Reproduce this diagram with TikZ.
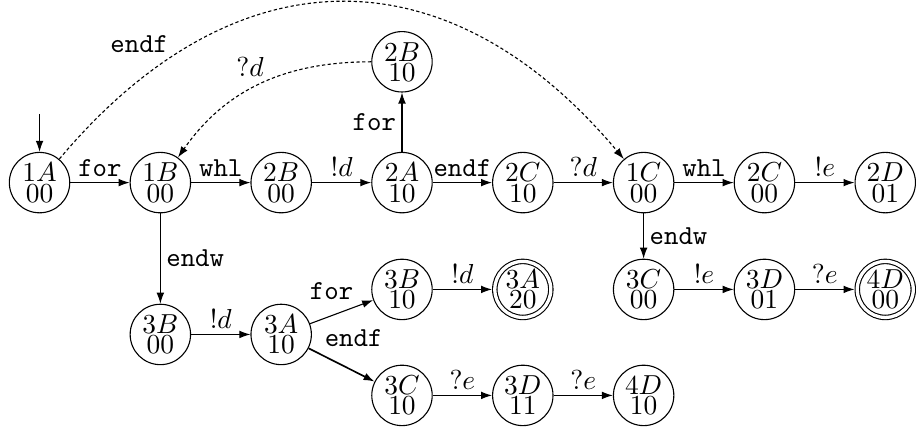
\documentclass[tikz,border=0pt]{standalone}
\usepackage{tikz}
\usetikzlibrary{arrows.meta,positioning}

\begin{document}
\begin{tikzpicture}[
    node distance=21.6pt,
    state/.style={draw, circle, minimum size=22pt, inner sep=0pt, align=center, font=\fontsize{10}{7.4}\selectfont},
    acc/.style={state, minimum size=20.4pt, double, double distance=1.2pt, outer sep=1pt},
    arrow/.style={-{Latex[length=4pt, width=2.8pt]}},
    back/.style={arrow, dash pattern=on 1.2pt off 0.9pt},
    lab/.style={font=\ttfamily, inner sep=2pt},
    mlab/.style={inner sep=2pt}
]
\useasboundingbox (-14.4pt,-89.7pt) rectangle (319.2pt,66.5pt);
% main row
\node[state] (s1A) {$1A$\\$00$};
\node[state, right=of s1A] (s1B) {$1B$\\$00$};
\node[state, right=of s1B] (s2B) {$2B$\\$00$};
\node[state, right=of s2B] (s2A) {$2A$\\$10$};
\node[state, above=of s2A] (s2Bt) {$2B$\\$10$};
\node[state, right=of s2A] (s2C) {$2C$\\$10$};
\node[state, right=of s2C] (s1C) {$1C$\\$00$};
\node[state, right=of s1C] (s2Cz) {$2C$\\$00$};
\node[state, right=of s2Cz] (s2D) {$2D$\\$01$};
% below 1C
\node[state, below=16.5pt of s1C] (s3Cz) {$3C$\\$00$};
\node[state, right=of s3Cz] (s3Dz) {$3D$\\$01$};
\node[acc, right=of s3Dz] (s4Dz) {$4D$\\$00$};
% below 1B
\node[state, below=32.9pt of s1B] (s3Bz) {$3B$\\$00$};
\node[state, right=of s3Bz] (s3Az) {$3A$\\$10$};
\node[state, right=of s3Az, yshift=16.4pt] (s3Bo) {$3B$\\$10$};
\node[acc, right=of s3Bo] (s3Ao) {$3A$\\$20$};
\node[state, right=of s3Az, yshift=-22.2pt] (s3Co) {$3C$\\$10$};
\node[state, right=of s3Co] (s3Do) {$3D$\\$11$};
\node[state, right=of s3Do] (s4Do) {$4D$\\$10$};
\coordinate[above=13.8pt of s1A] (init);

\draw[arrow] (init) -- (s1A);
\draw[arrow] (s1A) -- node[lab, above] {for} (s1B);
\draw[arrow] (s1B) -- node[lab, above] {whl} (s2B);
\draw[arrow] (s2B) -- node[mlab, above] {$!d$} (s2A);
\draw[arrow] (s2A) -- node[lab, left] {for} (s2Bt);
\draw[arrow] (s2A) -- node[lab, above] {endf} (s2C);
\draw[arrow] (s2C) -- node[mlab, above] {$?d$} (s1C);
\draw[arrow] (s1C) -- node[lab, above] {whl} (s2Cz);
\draw[arrow] (s2Cz) -- node[mlab, above] {$!e$} (s2D);
\draw[arrow] (s1C) -- node[lab, right] {endw} (s3Cz);
\draw[arrow] (s3Cz) -- node[mlab, above] {$!e$} (s3Dz);
\draw[arrow] (s3Dz) -- node[mlab, above] {$?e$} (s4Dz);
\draw[arrow] (s1B) -- node[lab, right] {endw} (s3Bz);
\draw[arrow] (s3Bz) -- node[mlab, above] {$!d$} (s3Az);
\draw[arrow] (s3Az) -- node[lab, above left, pos=0.78] {for} (s3Bo);
\draw[arrow] (s3Bo) -- node[mlab, above] {$!d$} (s3Ao);
\draw[arrow, semithick] (s3Az) -- node[lab, above right, pos=0.15] {endf} (s3Co);
\draw[arrow] (s3Co) -- node[mlab, above] {$?e$} (s3Do);
\draw[arrow] (s3Do) -- node[mlab, above] {$?e$} (s4Do);
% dashed back edges
\draw[back] (s1A) to[out=50, in=130, looseness=1.24] node[lab, above left, pos=0.21, yshift=-1.5pt] {endf} (s1C);
\draw[back] (s2Bt) to[out=180, in=55] node[mlab, above=2.5pt, pos=0.56] {$?d$} (s1B);
\end{tikzpicture}
\end{document}
